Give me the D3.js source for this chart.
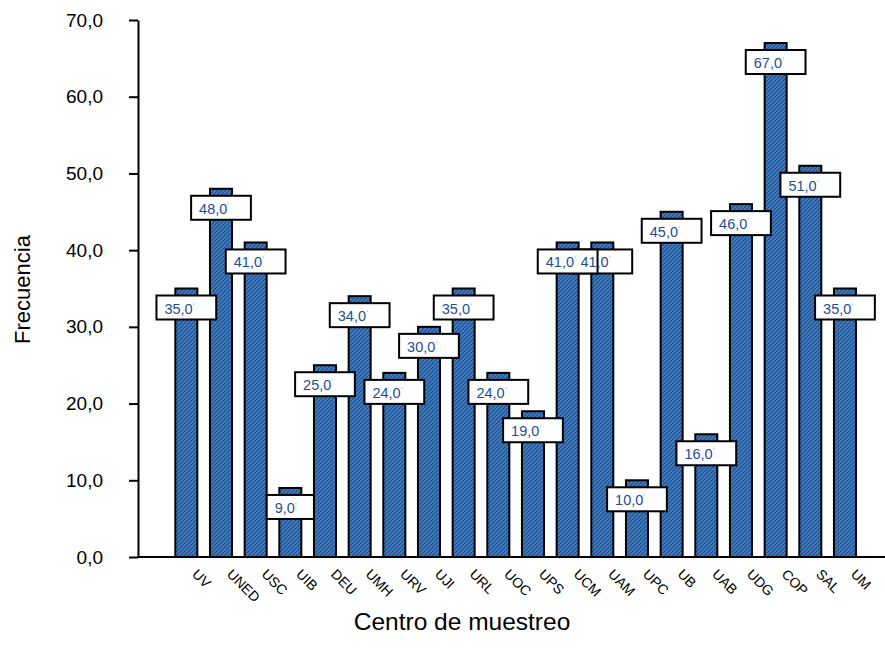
<!DOCTYPE html>
<html>
<head>
<meta charset="utf-8">
<script src="https://cdn.jsdelivr.net/npm/d3@7"></script>
<style>
  html, body { margin: 0; padding: 0; background: #fff; }
  svg { display: block; font-family: Arial, "Liberation Sans", sans-serif; }
</style>
</head>
<body>
<svg id="chart" width="885" height="659"></svg>
<script>
const categories = ["UV","UNED","USC","UIB","DEU","UMH","URV","UJI","URL","UOC","UPS","UCM","UAM","UPC","UB","UAB","UDG","COP","SAL","UM"];
const values = [35,48,41,9,25,34,24,30,35,24,19,41,41,10,45,16,46,67,51,35];
const yTicks = [0,10,20,30,40,50,60,70];
const yTitle = "Frecuencia";
const xTitle = "Centro de muestreo";

const W = 885, H = 659;
const svg = d3.select("#chart");
svg.append("rect").attr("width", W).attr("height", H).attr("fill", "#fff");

const defs = svg.append("defs");
const pat = defs.append("pattern").attr("id", "hatch")
  .attr("patternUnits", "userSpaceOnUse").attr("width", 4).attr("height", 4);
pat.append("rect").attr("width", 4).attr("height", 4).attr("fill", "#427fc6");
pat.append("path").attr("d", "M-1,1 l2,-2 M0,4 l4,-4 M3,5 l2,-2")
  .attr("stroke", "#214a82").attr("stroke-width", 1.2);

const plotLeft = 138, plotTop = 20, plotBottom = 557;
const y = d3.scaleLinear().domain([0, 70]).range([plotBottom, plotTop]);
const x = d3.scaleBand().domain(categories).range([169, 862.3])
  .paddingInner(0.365).paddingOuter(0.1825);

const loc = d3.formatLocale({decimal: ",", thousands: ".", grouping: [3], currency: ["", "€"]});
const fmt = loc.format(".1f");

// bars
svg.append("g").selectAll("rect").data(categories).join("rect")
  .attr("x", d => x(d))
  .attr("y", (d, i) => y(values[i]))
  .attr("width", x.bandwidth())
  .attr("height", (d, i) => y(0) - y(values[i]))
  .attr("fill", "url(#hatch)")
  .attr("stroke", "#000").attr("stroke-width", 2);

// y axis
const yAxis = svg.append("g").attr("transform", `translate(${plotLeft},0)`)
  .call(d3.axisLeft(y).tickValues(yTicks).tickFormat(fmt).tickSize(9).tickSizeOuter(0).tickPadding(26));
yAxis.select(".domain").attr("stroke", "#000").attr("stroke-width", 2);
yAxis.selectAll(".tick line").attr("stroke", "#000").attr("stroke-width", 2);
yAxis.selectAll(".tick text").attr("font-size", 19).attr("fill", "#000")
  .attr("font-family", "Arial, 'Liberation Sans', sans-serif");

// x axis line
svg.append("line").attr("x1", plotLeft - 1).attr("x2", W).attr("y1", y(0)).attr("y2", y(0))
  .attr("stroke", "#000").attr("stroke-width", 2);

// category labels
svg.append("g").selectAll("text").data(categories).join("text")
  .attr("transform", d => `translate(${x(d) + x.bandwidth() / 2 + 5},${y(0) + 18}) rotate(45)`)
  .attr("font-size", 14).attr("fill", "#000")
  .text(d => d);

// value labels
const lblG = svg.append("g");
const boxG = lblG.append("g");
const txtG = lblG.append("g");
const texts = txtG.selectAll("text").data(categories).join("text")
  .attr("font-size", 14.5).attr("fill", "#1f4e91")
  .attr("y", (d, i) => y(values[i]) + 7 + 18);
texts.append("tspan").text((d, i) => fmt(values[i]));
texts.append("tspan").attr("font-size", 9).attr("fill", "#9a9a9a").attr("dy", -4).text("´");
const boxInfo = categories.map((d, i) => {
  const tw = texts.filter((e, j) => j === i).select("tspan").node().getComputedTextLength();
  const bw = tw * 1.55 + 16;
  const cx = x(d) + x.bandwidth() / 2;
  return {i, bw, left: cx - bw / 2, top: y(values[i]) + 7};
});
texts.attr("x", (d, i) => boxInfo[i].left + 8);
boxG.selectAll("rect").data(boxInfo.slice().reverse()).join("rect")
  .attr("x", b => b.left).attr("y", b => b.top)
  .attr("width", b => b.bw).attr("height", 24)
  .attr("fill", "#fff").attr("stroke", "#000").attr("stroke-width", 2);

// titles
svg.append("text").attr("transform", `translate(30,${(plotTop + plotBottom) / 2 + 1}) rotate(-90)`)
  .attr("text-anchor", "middle").attr("font-size", 22).attr("fill", "#000").text(yTitle);
svg.append("text").attr("x", 462).attr("y", 630)
  .attr("text-anchor", "middle").attr("font-size", 24.5).attr("fill", "#000").text(xTitle);
</script>
</body>
</html>
